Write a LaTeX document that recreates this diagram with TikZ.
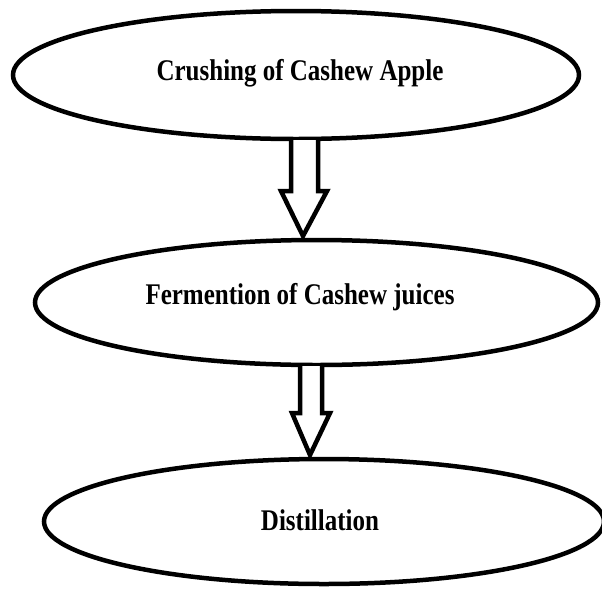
\documentclass[tikz,border=0pt]{standalone}
\usepackage{fontspec}
\setmainfont{Liberation Serif}
\usetikzlibrary{shapes.geometric,calc}
\newcommand{\tallbold}[1]{\scalebox{1}[1.2]{\fontsize{25}{30}\selectfont\bfseries #1}}
\begin{document}
\begin{tikzpicture}[x=1pt,y=-1pt,
  stage/.style={draw=black, line width=4.5pt, ellipse, inner sep=0pt},
  label/.style={anchor=base, inner sep=0pt},
  blockarrow/.style={draw=black, line width=4.5pt, line join=miter, fill=white}]
\useasboundingbox (0,0) rectangle (602,592);
\node[stage, minimum width=566pt, minimum height=128pt] (e1) at (296,75) {};
\node[stage, minimum width=563pt, minimum height=125pt] (e2) at (316.5,302.5) {};
\node[stage, minimum width=560pt, minimum height=125pt] (e3) at (324,521.5) {};
\node[label] (t1) at (300,80) {\tallbold{Crushing of Cashew Apple}};
\node[label] (t2) at (300,304) {\tallbold{Fermention of Cashew juices}};
\node[label] (t3) at (320,530) {\tallbold{Distillation}};
% arrow 1
\coordinate (a1top) at (305,140);
\coordinate (a1tip) at (303,236);
\draw[blockarrow] ($(a1top)+(-14,0)$) -- (291,191) -- (281,191) -- (a1tip) -- (327,191) -- (318,191) -- ($(a1top)+(13,0)$);
% arrow 2
\coordinate (a2top) at (311,366);
\coordinate (a2tip) at (310,455);
\draw[blockarrow] ($(a2top)+(-11,0)$) -- (300,413) -- (292,413) -- (a2tip) -- (330,413) -- (322,413) -- ($(a2top)+(11,0)$);
\end{tikzpicture}
\end{document}
